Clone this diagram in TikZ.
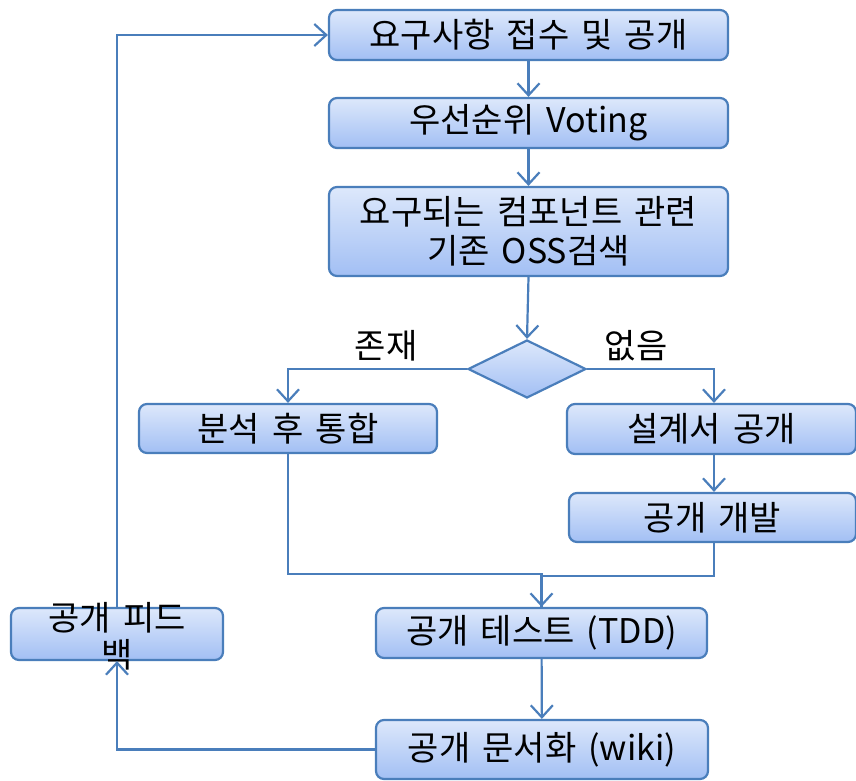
\documentclass[tikz,border=0pt]{standalone}
\usepackage{fontspec}
\setmainfont{Noto Sans CJK KR}[WordSpace=1.6]
\usetikzlibrary{shapes.geometric,arrows.meta}
\definecolor{bordc}{HTML}{4A7EBB}
\definecolor{topc}{HTML}{DDE8FB}
\definecolor{botc}{HTML}{A2BFF4}
\tikzset{
  box/.style={draw=bordc, line width=2.2pt, rounded corners=8pt, top color=topc, bottom color=botc,
    inner sep=0pt, align=center, font=\fontsize{34}{39}\selectfont},
  arr/.style={draw=bordc, line width=2.2pt, -{Straight Barb[length=12pt,width=22pt,line width=2.2pt]}},
  plain/.style={draw=bordc, line width=2.2pt},
  lbl/.style={font=\fontsize{34}{39}\selectfont, inner sep=0pt}
}
\begin{document}
\begin{tikzpicture}[x=1pt,y=-1pt]
\useasboundingbox (0,0) rectangle (856,781);
\node[box, minimum width=399, minimum height=50] (n1) at (528.5,35) {요구사항 접수 및 공개};
\node[box, minimum width=399, minimum height=50] (n2) at (528.5,123) {우선순위 Voting};
\node[box, minimum width=399, minimum height=89] (n3) at (528.5,231.5) {요구되는 컴포넌트 관련\\기존 OSS검색};
\node[diamond, draw=bordc, line width=2.2pt, top color=topc, bottom color=botc, inner sep=0pt,
      minimum width=118, minimum height=58] (dia) at (527,369) {};
\node[box, minimum width=298, minimum height=49] (n5) at (288,428.5) {분석 후 통합};
\node[box, minimum width=289, minimum height=50] (n6) at (711.5,429) {설계서 공개};
\node[box, minimum width=287, minimum height=49] (n7) at (712.5,517.5) {공개 개발};
\node[box, minimum width=331, minimum height=50] (n8) at (541.5,633) {공개 테스트 (TDD)};
\node[box, minimum width=332, minimum height=59] (n9) at (542,749.5) {공개 문서화 (wiki)};
\node[box, minimum width=212, minimum height=52] (fb) at (117,634) {};
\node[lbl, align=center, font=\fontsize{34}{37}\selectfont] (fbt) at (117,636) {공개 피드\\백};
\node[lbl] (l1) at (386,346) {존재};
\node[lbl] (l2) at (636,346) {없음};
\draw[arr] (n1) -- (n2);
\draw[arr] (n2) -- (n3);
\draw[arr] (n3.south) -- (dia.north);
\draw[arr] (dia.west) -| (n5.north);
\draw[arr] (dia.east) -| ([xshift=2.5pt]n6.north);
\draw[arr] ([xshift=2.5pt]n6.south) -- ([xshift=1.5pt]n7.north);
\draw[arr] (n5.south) -- ++(0,120) -| (n8.north);
\draw[plain] ([xshift=1.5pt]n7.south) -- ++(0,33) -| (n8.north);
\draw[arr] (n8) -- (n9);
\draw[arr] (n9.west) -| (fb.south);
\draw[arr] (fb.north) |- (n1.west);
\end{tikzpicture}
\end{document}
